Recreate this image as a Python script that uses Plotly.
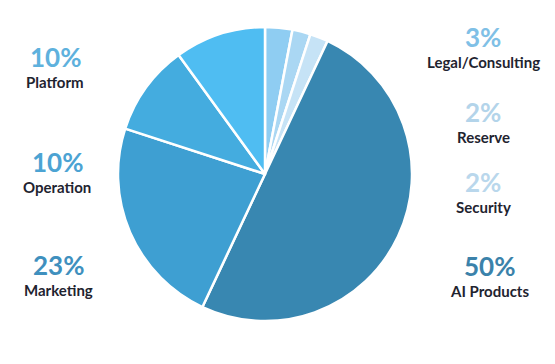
import plotly.graph_objects as go

categories = ["Legal/Consulting", "Reserve", "Security", "AI Products", "Marketing", "Operation", "Platform"]
values = [3, 2, 2, 50, 23, 10, 10]
slice_colors = ["#8fcdf2", "#aad7f3", "#c6e3f6", "#3887b1", "#3e9fd2", "#44acdf", "#4fbdf2"]
label_colors = ["#7fc0e6", "#b3d4ea", "#b9d7ec", "#3b82aa", "#3f90be", "#4ca3d3", "#5eb1dd"]

# label positions in pixels (x centre, y centre of the percentage text)
label_px_x = [483, 483, 483, 489, 58, 57, 55]
label_px_y = [37, 112, 182, 266, 265, 162, 57]

W, H = 555, 364
OFF = 8  # page body margin
CX, CY, R = 265 - OFF, 174 - OFF, 147

fig = go.Figure()
fig.add_trace(go.Pie(
    labels=categories,
    values=values,
    sort=False,
    direction="clockwise",
    rotation=0,
    marker=dict(colors=slice_colors, line=dict(color="white", width=2.5)),
    textinfo="none",
    hoverinfo="label+percent",
    showlegend=False,
    domain=dict(x=[(CX - R) / W, (CX + R) / W],
                y=[(H - CY - R) / H, (H - CY + R) / H]),
))

for cat, val, col, px, py in zip(categories, values, label_colors, label_px_x, label_px_y):
    fig.add_annotation(x=(px - OFF) / W, y=1 - (py - 8) / H, xref="paper", yref="paper", showarrow=False,
                       text=f"<b>{val}%</b>", xanchor="center", yanchor="middle",
                       font=dict(family="Lato, Open Sans, sans-serif", size=26, color=col))
    fig.add_annotation(x=(px - OFF) / W, y=1 - (py + 17) / H, xref="paper", yref="paper", showarrow=False,
                       text=f"<b>{cat}</b>", xanchor="center", yanchor="middle",
                       font=dict(family="Lato, Open Sans, sans-serif", size=15, color="#1f2430"))

fig.update_layout(width=W, height=H, margin=dict(l=0, r=0, t=0, b=0),
                  paper_bgcolor="white", plot_bgcolor="white")
fig.write_html("out.html")
